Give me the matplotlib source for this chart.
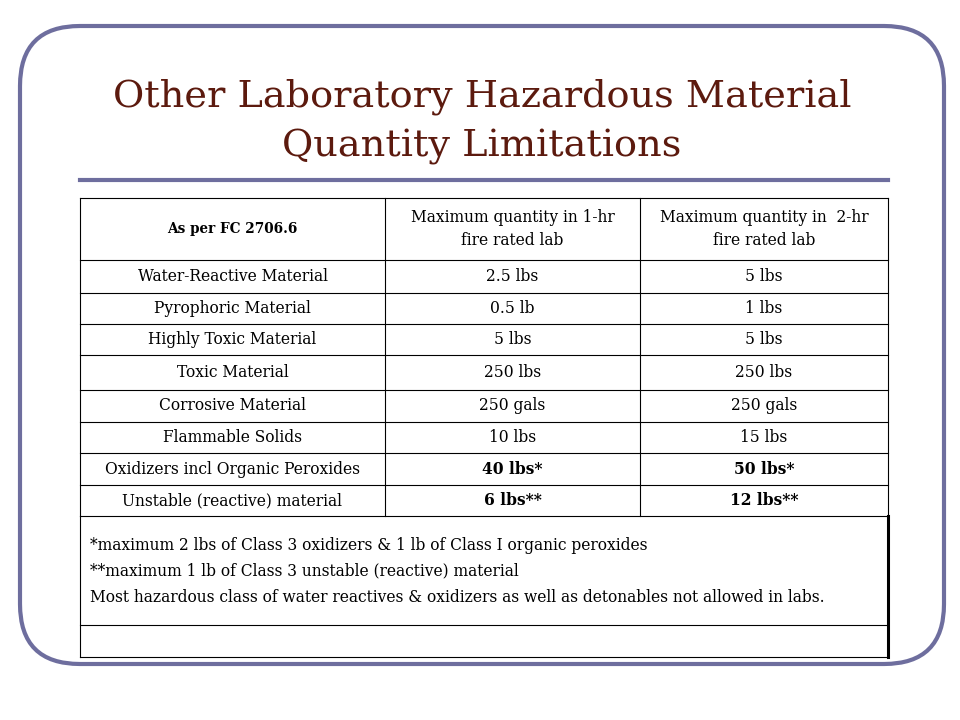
import matplotlib
matplotlib.use("Agg")
import matplotlib.pyplot as plt
from matplotlib.patches import FancyBboxPatch

title_lines = ["Other Laboratory Hazardous Material", "Quantity Limitations"]
header = ["As per FC 2706.6", "Maximum quantity in 1-hr\nfire rated lab", "Maximum quantity in  2-hr\nfire rated lab"]
materials = ["Water-Reactive Material", "Pyrophoric Material", "Highly Toxic Material", "Toxic Material",
             "Corrosive Material", "Flammable Solids", "Oxidizers incl Organic Peroxides", "Unstable (reactive) material"]
qty_1hr = ["2.5 lbs", "0.5 lb", "5 lbs", "250 lbs", "250 gals", "10 lbs", "40 lbs*", "6 lbs**"]
qty_2hr = ["5 lbs", "1 lbs", "5 lbs", "250 lbs", "250 gals", "15 lbs", "50 lbs*", "12 lbs**"]
bold_rows = [6, 7]
notes = ["*maximum 2 lbs of Class 3 oxidizers & 1 lb of Class I organic peroxides",
         "**maximum 1 lb of Class 3 unstable (reactive) material",
         "Most hazardous class of water reactives & oxidizers as well as detonables not allowed in labs."]

plt.rcParams['font.family'] = ['DejaVu Serif']
fig = plt.figure(figsize=(9.6, 7.2), dpi=100)
ax = fig.add_axes([0, 0, 1, 1])
ax.set_xlim(0, 960); ax.set_ylim(720, 0); ax.axis('off')

frame = "#6e6e9e"
ax.add_patch(FancyBboxPatch((20, 26), 924, 638, boxstyle="round,pad=0,rounding_size=60",
                            fill=False, ec=frame, lw=3))
for i, t in enumerate(title_lines):
    ax.text(482, 97 + i * 50, t, ha='center', va='center', fontsize=27.5, color="#5c1a0e")
ax.plot([80, 888], [180, 180], color=frame, lw=3)

xs = [80, 385, 640, 888]
ys = [198, 260, 293, 324, 355, 390, 422, 453, 485, 516]
lc = "black"
for y in ys:
    ax.plot([80, 888], [y, y], color=lc, lw=0.8)
for x in xs:
    ax.plot([x, x], [198, 516], color=lc, lw=0.8)
ax.plot([80, 80], [516, 657], color=lc, lw=0.8)
ax.plot([888, 888], [516, 657], color=lc, lw=2.2)
ax.plot([80, 888], [625, 625], color=lc, lw=0.8)
ax.plot([80, 888], [657, 657], color=lc, lw=0.8)

fs = 11.2
for j, h in enumerate(header):
    cx = (xs[j] + xs[j + 1]) / 2
    ax.text(cx, 229, h, ha='center', va='center', fontsize=fs if j else 9.8,
            fontweight='bold' if j == 0 else 'normal', linespacing=1.45)
for i in range(len(materials)):
    cy = (ys[i + 1] + ys[i + 2]) / 2
    w = 'bold' if i in bold_rows else 'normal'
    ax.text((xs[0] + xs[1]) / 2, cy, materials[i], ha='center', va='center', fontsize=fs)
    ax.text((xs[1] + xs[2]) / 2, cy, qty_1hr[i], ha='center', va='center', fontsize=fs, fontweight=w)
    ax.text((xs[2] + xs[3]) / 2, cy, qty_2hr[i], ha='center', va='center', fontsize=fs, fontweight=w)
for k, n in enumerate(notes):
    ax.text(90, 545 + k * 26, n, ha='left', va='center', fontsize=fs)

fig.savefig("out.png", dpi=100)
